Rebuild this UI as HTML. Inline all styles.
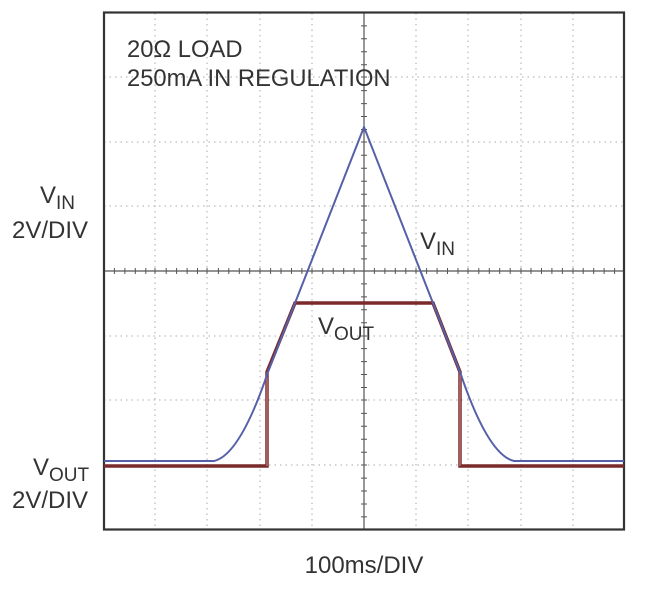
<!DOCTYPE html>
<html><head><meta charset="utf-8"><style>
html,body{margin:0;padding:0;background:#fff;}
svg{display:block;}
text{font-family:"Liberation Sans",sans-serif;fill:#333;}
</style></head><body>
<svg width="654" height="594" viewBox="0 0 654 594" xmlns="http://www.w3.org/2000/svg">
<g stroke="#aaa" stroke-width="1" stroke-dasharray="1.5,4" fill="none">
<line x1="155" y1="13" x2="155" y2="529"/>
<line x1="207" y1="13" x2="207" y2="529"/>
<line x1="260" y1="13" x2="260" y2="529"/>
<line x1="312" y1="13" x2="312" y2="529"/>
<line x1="416" y1="13" x2="416" y2="529"/>
<line x1="468" y1="13" x2="468" y2="529"/>
<line x1="521" y1="13" x2="521" y2="529"/>
<line x1="573" y1="13" x2="573" y2="529"/>
<line x1="104" y1="77" x2="624" y2="77"/>
<line x1="104" y1="142" x2="624" y2="142"/>
<line x1="104" y1="206" x2="624" y2="206"/>
<line x1="104" y1="336" x2="624" y2="336"/>
<line x1="104" y1="400" x2="624" y2="400"/>
<line x1="104" y1="465" x2="624" y2="465"/>
</g>
<g stroke="#555" stroke-width="1.2">
<line x1="364" y1="13" x2="364" y2="529"/>
<line x1="104" y1="271" x2="624" y2="271"/>
</g>
<g stroke="#555" stroke-width="1">
<path d="M114.4 268v6M124.9 268v6M135.3 268v6M145.8 268v6M155 268v6M166.2 268v6M176.6 268v6M187.1 268v6M197.5 268v6M207 268v6M218.4 268v6M228.8 268v6M239.3 268v6M249.7 268v6M260 268v6M270.6 268v6M281 268v6M291.5 268v6M301.9 268v6M312 268v6M322.8 268v6M333.2 268v6M343.7 268v6M354.1 268v6M374.4 268v6M384.9 268v6M395.3 268v6M405.8 268v6M416 268v6M426.6 268v6M437.1 268v6M447.5 268v6M458 268v6M468 268v6M478.8 268v6M489.3 268v6M499.7 268v6M510.2 268v6M521 268v6M531 268v6M541.5 268v6M551.9 268v6M562.4 268v6M573 268v6M583.2 268v6M593.7 268v6M604.1 268v6M614.6 268v6"/>
<path d="M361 25.9h6M361 38.8h6M361 51.8h6M361 64.7h6M361 77h6M361 90.6h6M361 103.6h6M361 116.5h6M361 129.5h6M361 142h6M361 155.3h6M361 168.3h6M361 181.2h6M361 194.2h6M361 206h6M361 220.1h6M361 233h6M361 246h6M361 258.9h6M361 283.9h6M361 296.9h6M361 309.8h6M361 322.8h6M361 336h6M361 348.6h6M361 361.6h6M361 374.5h6M361 387.5h6M361 400h6M361 413.4h6M361 426.3h6M361 439.3h6M361 452.2h6M361 465h6M361 478.1h6M361 491h6M361 504h6M361 516.9h6"/>
</g>
<rect x="104" y="12.5" width="520" height="517" fill="none" stroke="#333" stroke-width="2.2"/>
<path d="M104 466 H267 V372 L295 303 H433 L460 372 V466 H624" fill="none" stroke="#7a2a2a" stroke-width="3.5" stroke-linejoin="miter"/>
<path d="M267 466 V372 M460 372 V466" stroke="#c08080" stroke-width="1.2"/>
<path d="M104 461 H214 Q240 455 268 372 L364 127 L460 372 Q488 455 514 461 H624" fill="none" stroke="#5560a8" stroke-width="2"/>
<g transform="translate(127,0) scale(0.99,1)">
<text x="0" y="57" font-size="24">20Ω LOAD</text>
<text x="0" y="86" font-size="24">250mA IN REGULATION</text>
</g>
<text x="40" y="203" font-size="24">V<tspan font-size="19" dy="6">IN</tspan></text>
<text x="88" y="238" font-size="24" text-anchor="end">2V/DIV</text>
<text x="420" y="249" font-size="24">V<tspan font-size="19" dy="6">IN</tspan></text>
<text x="318" y="334" font-size="24">V<tspan font-size="19" dy="6">OUT</tspan></text>
<text x="33" y="475" font-size="24">V<tspan font-size="19" dy="6">OUT</tspan></text>
<text x="88" y="508" font-size="24" text-anchor="end">2V/DIV</text>
<text x="364" y="573" font-size="24" text-anchor="middle">100ms/DIV</text>
</svg>
</body></html>
